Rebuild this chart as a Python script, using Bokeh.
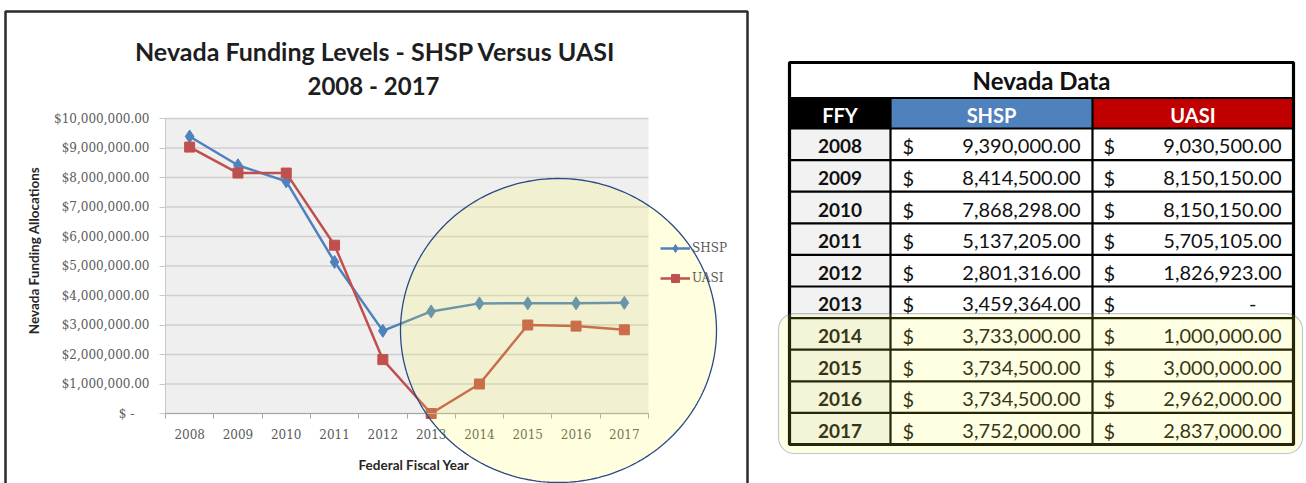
import numpy as np
from bokeh.plotting import figure
from bokeh.models import (Range1d, FixedTicker, LinearAxis, BoxAnnotation, Legend, LegendItem)
from bokeh.layouts import row
from bokeh.core.properties import value
from bokeh.embed import file_html
from bokeh.resources import INLINE

# ---------------- data ----------------
years = [2008, 2009, 2010, 2011, 2012, 2013, 2014, 2015, 2016, 2017]
shsp = [9390000.00, 8414500.00, 7868298.00, 5137205.00, 2801316.00,
        3459364.00, 3733000.00, 3734500.00, 3734500.00, 3752000.00]
uasi = [9030500.00, 8150150.00, 8150150.00, 5705105.00, 1826923.00,
        0.00, 1000000.00, 3000000.00, 2962000.00, 2837000.00]
y_ticks = [0, 1000000, 2000000, 3000000, 4000000, 5000000,
           6000000, 7000000, 8000000, 9000000, 10000000]
y_tick_labels = ["$ -\u00a0\u00a0\u00a0\u00a0", "$1,000,000.00", "$2,000,000.00", "$3,000,000.00",
                 "$4,000,000.00", "$5,000,000.00", "$6,000,000.00", "$7,000,000.00",
                 "$8,000,000.00", "$9,000,000.00", "$10,000,000.00"]
highlight_years = [2014, 2015, 2016, 2017]

chart_title = ["Nevada Funding Levels - SHSP Versus UASI", "2008 - 2017"]
x_title = "Federal Fiscal Year"
y_title = "Nevada Funding Allocations"
table_title = "Nevada Data"
table_headers = ["FFY", "SHSP", "UASI"]

SHSP_COLOR = "#4f81bd"
UASI_COLOR = "#c0504d"
HILITE_FILL = "#ffff44"
HILITE_LINE = "#2a4a86"
TICK_FONT = "DejaVu Serif"
TICK_COLOR = "#5a5a5a"

# ---------------- left: line chart ----------------
W1, H = 768, 483
FL, FR, FT, FB = 165, 648, 118, 413  # plot area in canvas pixels

x_lo, x_hi = years[0] - 0.5, years[-1] + 0.5
y_lo, y_hi = y_ticks[0], y_ticks[-1]
ppx = (FR - FL) / (x_hi - x_lo)
ppy = (FB - FT) / (y_hi - y_lo)

p = figure(width=W1, height=H, output_backend="svg", toolbar_location=None,
           x_axis_type=None, y_axis_type=None, min_border=0,
           x_range=Range1d(x_lo - FL / ppx, x_hi + (W1 - FR) / ppx),
           y_range=Range1d(y_lo - (H - FB) / ppy, y_hi + FT / ppy))
p.extra_x_ranges = {"cx": Range1d(0, W1)}
p.extra_y_ranges = {"cy": Range1d(H, 0)}
p.background_fill_color = "white"
p.border_fill_color = "white"
p.outline_line_color = None
p.grid.visible = False

# plot area background and horizontal gridlines
p.quad(left=x_lo, right=x_hi, bottom=y_lo, top=y_hi, fill_color="#efefef", line_color=None)
p.segment(x0=x_lo, x1=x_hi, y0=y_ticks, y1=y_ticks, line_color="#cfcfcf", line_width=1.5)

# y axis
yaxis = LinearAxis(fixed_location=x_lo, bounds=(y_lo, y_hi), ticker=FixedTicker(ticks=y_ticks))
yaxis.major_label_overrides = {float(t): lab for t, lab in zip(y_ticks, y_tick_labels)}
yaxis.major_label_text_font = TICK_FONT
yaxis.major_label_text_font_size = "12px"
yaxis.major_label_text_color = TICK_COLOR
yaxis.axis_line_color = "#c8c8c8"
yaxis.major_tick_line_color = "#c8c8c8"
yaxis.major_tick_out = 6
yaxis.major_tick_in = 0
yaxis.minor_tick_line_color = None
yaxis.major_label_standoff = 10
p.add_layout(yaxis, "left")

# x axis
bounds = [y - 0.5 for y in years] + [years[-1] + 0.5]
xaxis = LinearAxis(fixed_location=y_lo, bounds=(x_lo, x_hi),
                   ticker=FixedTicker(ticks=years, minor_ticks=bounds))
xaxis.major_label_overrides = {float(y): str(y) for y in years}
xaxis.major_label_text_font = TICK_FONT
xaxis.major_label_text_font_size = "12px"
xaxis.major_label_text_color = TICK_COLOR
xaxis.axis_line_color = "#a6a6a6"
xaxis.major_tick_out = 0
xaxis.major_tick_in = 0
xaxis.minor_tick_out = 5
xaxis.minor_tick_in = 0
xaxis.minor_tick_line_color = "#a6a6a6"
xaxis.major_label_standoff = 10
p.add_layout(xaxis, "below")

# series
l1 = p.line(years, shsp, line_color=SHSP_COLOR, line_width=2.5)
s1 = p.scatter(years, shsp, marker="diamond", size=13, color=SHSP_COLOR)
l2 = p.line(years, uasi, line_color=UASI_COLOR, line_width=2.5)
s2 = p.scatter(years, uasi, marker="square", size=10, color=UASI_COLOR)

legend = Legend(items=[LegendItem(label="SHSP", renderers=[l1, s1]),
                       LegendItem(label="UASI", renderers=[l2, s2])],
                location=(660, H - 288), orientation="vertical",
                glyph_width=30, glyph_height=20, spacing=10, label_standoff=2,
                padding=0, margin=0, border_line_color=None,
                background_fill_alpha=0,
                label_text_font=TICK_FONT, label_text_font_size="12px",
                label_text_color=TICK_COLOR)
p.add_layout(legend)

# titles (pixel coordinates through the "cx"/"cy" ranges)
p.text(x=[375], y=[50], text=[chart_title[0]], x_range_name="cx", y_range_name="cy",
       text_font=value("Lato"), text_font_style="bold", text_font_size=value("25px"),
       text_align="center", text_baseline="middle", text_color="#1e1e1e")
p.text(x=[373], y=[85], text=[chart_title[1]], x_range_name="cx", y_range_name="cy",
       text_font=value("Lato"), text_font_style="bold", text_font_size=value("24px"),
       text_align="center", text_baseline="middle", text_color="#1e1e1e")
p.text(x=[(FL + FR) / 2 + 7], y=[464], text=[x_title], x_range_name="cx", y_range_name="cy",
       text_font=value("Lato"), text_font_style="bold", text_font_size=value("13.5px"),
       text_align="center", text_baseline="middle", text_color="#262626")
p.text(x=[33], y=[250], text=[y_title], angle=np.pi / 2, x_range_name="cx", y_range_name="cy",
       text_font=value("Lato"), text_font_style="bold", text_font_size=value("13.5px"),
       text_align="center", text_baseline="middle", text_color="#262626")

# chart frame border
p.quad(left=5, right=747, top=11, bottom=H + 10, x_range_name="cx", y_range_name="cy",
       fill_alpha=0, line_color="#2b2b2b", line_width=2.5, level="overlay")

# highlight ellipse
t = np.linspace(0, 2 * np.pi, 240)
ecx, ecy, erx, ery = 558, 330, 158, 152
p.patch(list(ecx + erx * np.cos(t)), list(ecy + ery * np.sin(t)),
        x_range_name="cx", y_range_name="cy", fill_color=HILITE_FILL, fill_alpha=0.17,
        line_color=HILITE_LINE, line_width=1.3, level="overlay")

# ---------------- right: data table ----------------
X0, X1 = W1, 1306
q = figure(width=X1 - X0, height=H, output_backend="svg", toolbar_location=None,
           x_range=Range1d(X0, X1), y_range=Range1d(H, 0),
           x_axis_type=None, y_axis_type=None, min_border=0)
q.grid.visible = False
q.outline_line_color = None
q.background_fill_color = "white"
q.border_fill_color = "white"

col_edges = [789, 890, 1092, 1293]
top, title_bot, head_bot, row_h = 62, 97.5, 128, 31.6
n = len(years)
row_tops = [head_bot + i * row_h for i in range(n)]
row_mid = [rt + row_h / 2 + 2 for rt in row_tops]

# title row
q.text(x=[(col_edges[0] + col_edges[-1]) / 2], y=[80], text=[table_title],
       text_font=value("Lato"), text_font_style="bold", text_font_size=value("24px"),
       text_align="center", text_baseline="middle", text_color="#111111")
# header
q.quad(left=col_edges[:-1], right=col_edges[1:], top=[title_bot] * 3, bottom=[head_bot] * 3,
       fill_color=["#000000", "#4f81bd", "#c00000"], line_color=None)
q.text(x=[(a + b) / 2 for a, b in zip(col_edges[:-1], col_edges[1:])],
       y=[(title_bot + head_bot) / 2 + 1.5] * 3, text=table_headers,
       text_font=value("Lato"), text_font_style="bold", text_font_size=value("20px"),
       text_align="center", text_baseline="middle", text_color="white")
# year cells
q.quad(left=col_edges[0], right=col_edges[1], top=row_tops,
       bottom=[rt + row_h for rt in row_tops], fill_color="#f2f2f2", line_color=None)


def money(v):
    return "-" if v == 0 else f"{v:,.2f}"


q.text(x=[(col_edges[0] + col_edges[1]) / 2] * n, y=row_mid,
       text=[str(y) for y in years], text_font=value("Lato"), text_font_style="bold",
       text_font_size=value("19px"), text_align="center", text_baseline="middle",
       text_color="#111111")
q.text(x=[col_edges[1] + 12] * n + [col_edges[2] + 11] * n, y=row_mid * 2,
       text=["$"] * (2 * n), text_font=value("Lato"), text_font_size=value("20px"),
       text_align="left", text_baseline="middle", text_color="#111111")
q.text(x=[col_edges[2] - 12] * n, y=row_mid, text=[money(v) for v in shsp],
       text_font=value("Lato"), text_font_size=value("20px"), text_align="right",
       text_baseline="middle", text_color="#111111")
q.text(x=[col_edges[3] - 12 - (25 if v == 0 else 0) for v in uasi], y=row_mid,
       text=[money(v) for v in uasi], text_font=value("Lato"), text_font_size=value("20px"),
       text_align="right", text_baseline="middle", text_color="#111111")

# table lines
h_lines = [title_bot, head_bot] + [rt + row_h for rt in row_tops[:-1]]
q.segment(x0=col_edges[0], x1=col_edges[-1], y0=h_lines, y1=h_lines,
          line_color="black", line_width=2.2)
q.segment(x0=col_edges[1:-1], x1=col_edges[1:-1], y0=title_bot, y1=row_tops[-1] + row_h,
          line_color="black", line_width=2.2)
q.quad(left=col_edges[0], right=col_edges[-1], top=top, bottom=row_tops[-1] + row_h,
       fill_alpha=0, line_color="black", line_width=3.2)

# highlight rounded box around highlighted years
hi = [years.index(y) for y in highlight_years]
q.add_layout(BoxAnnotation(left=col_edges[0] - 11, right=col_edges[-1] + 9,
                           top=row_tops[hi[0]] - 4.5, bottom=row_tops[hi[-1]] + row_h + 9,
                           border_radius=16, fill_color=HILITE_FILL, fill_alpha=0.15,
                           line_color=HILITE_LINE, line_width=1.2))

layout = row(p, q)
open("out.html", "w").write(file_html(layout, INLINE))
